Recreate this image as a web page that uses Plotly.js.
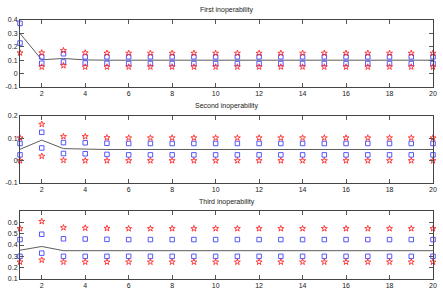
<!DOCTYPE html>
<html><head><meta charset="utf-8">
<script src="https://cdn.plot.ly/plotly-3.0.1.min.js"></script>
<style>html,body{margin:0;padding:0;background:#fff}#plot{width:443px;height:302px}</style>
</head><body><div id="plot"></div>
<script>
var steps = [1,2,3,4,5,6,7,8,9,10,11,12,13,14,15,16,17,18,19,20];
var titles = ["First inoperability","Second inoperability","Third inoperability"];

function rest(first, tail){ var a = first.slice(); while(a.length<20) a.push(tail); return a; }

var line1   = rest([0.300,0.103,0.113,0.102,0.100], 0.100);
var blueUp1 = rest([0.375,0.125,0.148,0.125,0.125], 0.125);
var blueLo1 = rest([0.228,0.077,0.087,0.079,0.076], 0.075);
var redUp1  = rest([null,0.155,0.172,0.155,0.153], 0.152);
var redLo1  = rest([0.155,0.050,0.060,0.050,0.050], 0.050);

var line2   = rest([0.051,0.092,0.054,0.051,0.050], 0.050);
var blueUp2 = rest([0.077,0.127,0.081,0.080,0.078], 0.077);
var blueLo2 = rest([0.026,0.057,0.032,0.031,0.028], 0.026);
var redUp2  = rest([0.102,0.163,0.108,0.108,0.103], 0.102);
var redLo2  = rest([0.000,0.020,0.002,0.000,0.000], 0.000);

var line3   = rest([0.354,0.387,0.350,0.350,0.350], 0.350);
var blueUp3 = rest([0.448,0.495,0.455,0.453,0.450], 0.448);
var blueLo3 = rest([0.300,0.328,0.300,0.300,0.300], 0.300);
var redUp3  = rest([0.545,0.608,0.553,0.550,0.547], 0.545);
var redLo3  = rest([0.250,0.267,0.250,0.250,0.250], 0.250);

var xTicks = [2,4,6,8,10,12,14,16,18,20];
var yTicks1 = [-0.1,0,0.1,0.2,0.3,0.4];
var yText1  = ["-0.1","0","0.1","0.2","0.3","0.4"];
var yTicks2 = [-0.1,0,0.1,0.2];
var yText2  = ["-0.1","0","0.1","0.2"];
var yTicks3 = [0.1,0.2,0.3,0.4,0.5,0.6];
var yText3  = ["0.1","0.2","0.3","0.4","0.5","0.6"];

var sets = [
  {line:line1,bu:blueUp1,bl:blueLo1,ru:redUp1,rl:redLo1},
  {line:line2,bu:blueUp2,bl:blueLo2,ru:redUp2,rl:redLo2},
  {line:line3,bu:blueUp3,bl:blueLo3,ru:redUp3,rl:redLo3}
];
var traces = [];
sets.forEach(function(s,i){
  var xa = i===0?'x':'x'+(i+1), ya = i===0?'y':'y'+(i+1);
  traces.push({x:steps,y:s.line,xaxis:xa,yaxis:ya,mode:'lines',line:{color:'#333',width:0.8},hoverinfo:'skip'});
  [s.bu,s.bl].forEach(function(v){
    traces.push({x:steps,y:v,xaxis:xa,yaxis:ya,mode:'markers',cliponaxis:false,marker:{symbol:'square-open',size:4.5,color:'#4444ff',line:{width:0.9}}});
  });
  [s.ru,s.rl].forEach(function(v){
    traces.push({x:steps,y:v,xaxis:xa,yaxis:ya,mode:'markers',cliponaxis:false,marker:{symbol:'star-open',size:4.5,color:'#ff2a2a',line:{width:0.9}}});
  });
});

var font = {family:'Liberation Sans, Arial, sans-serif',size:7,color:'#222'};
function xax(anchor){ return {anchor:anchor,range:[1,20],tickvals:xTicks,ticks:'inside',ticklen:4,tickcolor:'#555',
  showline:true,linecolor:'#444',linewidth:1,mirror:'ticks',showgrid:false,zeroline:false,tickfont:font,fixedrange:true}; }
function yax(anchor,dom,rng,tv,tt){ return {anchor:anchor,domain:dom,range:rng,tickvals:tv,ticktext:tt,ticks:'inside',ticklen:4,tickcolor:'#555',
  showline:true,linecolor:'#444',linewidth:1,mirror:'ticks',showgrid:false,zeroline:false,tickfont:font,fixedrange:true}; }

var layout = {
  width:443,height:302,margin:{l:20,r:10,t:20,b:23},
  paper_bgcolor:'#fff',plot_bgcolor:'#fff',showlegend:false,
  xaxis:xax('y'), xaxis2:xax('y2'), xaxis3:xax('y3'),
  yaxis:yax('x',[0.7413,1],[-0.1,0.4],yTicks1,yText1),
  yaxis2:yax('x2',[0.3707,0.6293],[-0.1,0.2],yTicks2,yText2),
  yaxis3:yax('x3',[0,0.2625],[0.1,0.7],yTicks3,yText3),
  annotations:[
    {text:titles[0],xref:'paper',yref:'paper',x:0.5,y:1,yshift:10,showarrow:false,font:font,yanchor:'middle'},
    {text:titles[1],xref:'paper',yref:'paper',x:0.5,y:0.6293,yshift:10,showarrow:false,font:font,yanchor:'middle'},
    {text:titles[2],xref:'paper',yref:'paper',x:0.5,y:0.2625,yshift:9,showarrow:false,font:font,yanchor:'middle'}
  ]
};
Plotly.newPlot('plot',traces,layout,{displayModeBar:false,staticPlot:true});
</script></body></html>
